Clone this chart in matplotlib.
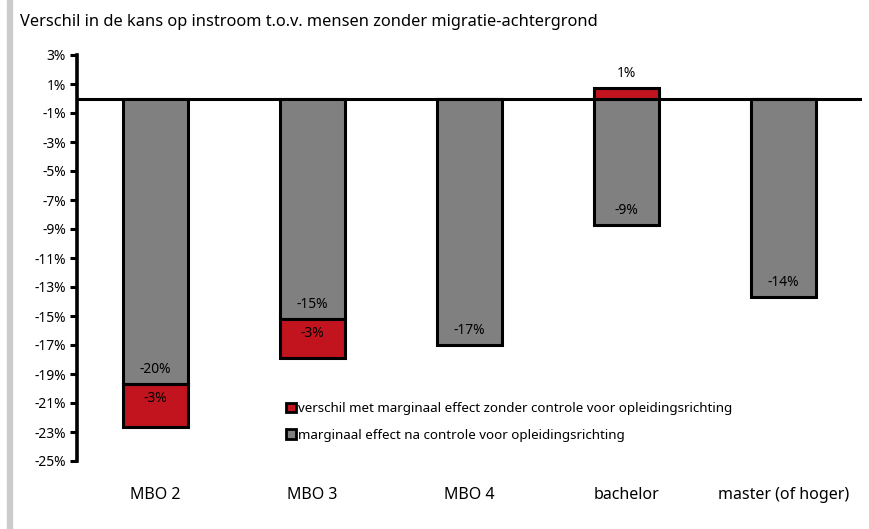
import matplotlib.pyplot as plt
from matplotlib.patches import Patch, Rectangle

categories = ['MBO 2', 'MBO 3', 'MBO 4', 'bachelor', 'master (of hoger)']
# marginaal effect na controle voor opleidingsrichting
gray_vals = [-19.7, -15.2, -17.0, -8.75, -13.7]
gray_labels = ['-20%', '-15%', '-17%', '-9%', '-14%']
# verschil met marginaal effect zonder controle
red_vals = [-2.95, -2.7, 0.0, 0.75, 0.0]
red_labels = ['-3%', '-3%', '', '1%', '']

yticks = list(range(3, -26, -2))
ytick_labels = ['%d%%' % t for t in yticks]

gray_c = '#808080'
red_c = '#c1141e'

plt.rcParams['font.family'] = ['Noto Sans', 'DejaVu Sans']

fig = plt.figure(figsize=(8.69, 5.29), dpi=100)
ax = fig.add_axes([77/869, 1-461/529, (862-77)/869, (461-55)/529])

x = range(len(categories))
w = 0.41
ax.bar(x, gray_vals, width=w, color=gray_c, edgecolor='black', linewidth=2.2, zorder=2)
red_bottom = [g if r < 0 else 0 for g, r in zip(gray_vals, red_vals)]
ax.bar(x, red_vals, width=w, bottom=red_bottom, color=red_c, edgecolor='black', linewidth=2.2, zorder=2)

for i in x:
    g = gray_vals[i]
    ax.text(i, g + 1.0, gray_labels[i], ha='center', va='center', fontsize=10, zorder=3)
    r = red_vals[i]
    if red_labels[i]:
        if r < 0:
            ax.text(i, g - 1.0, red_labels[i], ha='center', va='center', fontsize=10, zorder=3)
        else:
            ax.text(i, r + 1.0, red_labels[i], ha='center', va='center', fontsize=10, zorder=3)

ax.axhline(0, color='black', linewidth=2.2, zorder=1)

ax.set_xlim(-0.5, 4.5)
ax.set_ylim(-25, 3)
ax.set_yticks(yticks)
ax.set_yticklabels(ytick_labels, fontsize=10)
ax.set_xticks(list(x))
ax.set_xticklabels(categories, fontsize=11.5)
ax.tick_params(axis='x', length=0, pad=19)
ax.tick_params(axis='y', length=5, width=2.2, pad=3)
for s in ['top', 'right', 'bottom']:
    ax.spines[s].set_visible(False)
ax.spines['left'].set_linewidth(2.6)

handles = [Patch(facecolor=red_c, edgecolor='black', linewidth=2),
           Patch(facecolor=gray_c, edgecolor='black', linewidth=2)]
labels = ['verschil met marginaal effect zonder controle voor opleidingsrichting',
          'marginaal effect na controle voor opleidingsrichting']
ax.legend(handles, labels, loc='upper left', bbox_to_anchor=(0.26, 0.158), frameon=False,
          fontsize=9.6, handlelength=0.7, handleheight=0.7, handletextpad=0.2,
          labelspacing=1.0, borderaxespad=0)

fig.text(20/869, 1-22/529, 'Verschil in de kans op instroom t.o.v. mensen zonder migratie-achtergrond',
         ha='left', va='center', fontsize=11.8)

fig.patches.append(Rectangle((7/869, 0), 5/869, 1, transform=fig.transFigure,
                             color='#cccccc', zorder=0))

fig.savefig('out.png', dpi=100)
